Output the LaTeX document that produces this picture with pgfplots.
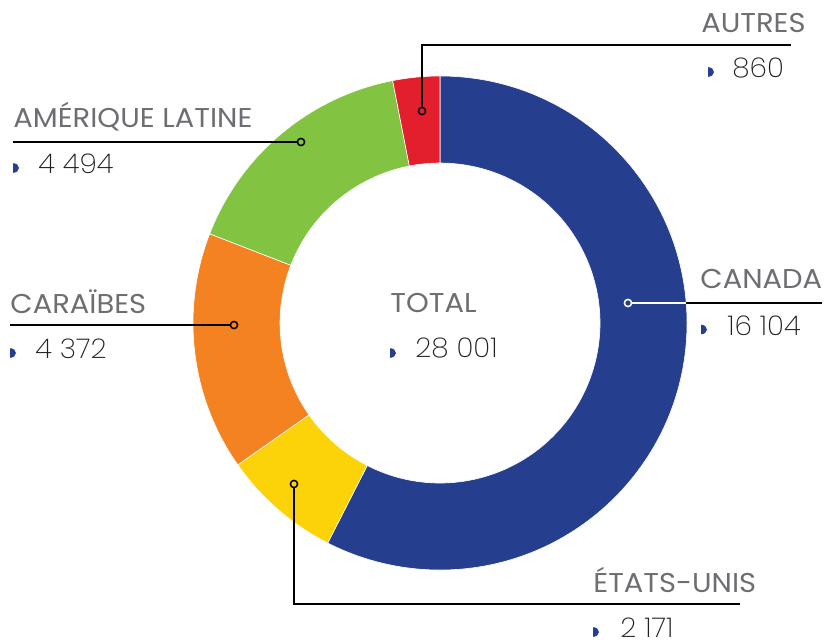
\documentclass[border=0pt]{standalone}
\usepackage{pgfplots}
\pgfplotsset{compat=1.18}
\usepackage{pgfplotstable}
\usepackage{fontspec}
\setmainfont{Poppins}[FakeStretch=1.065]
\newfontfamily\lightfont{Poppins ExtraLight}[FakeStretch=1.03]
\definecolor{cCanada}{RGB}{37,63,142}
\definecolor{cUS}{RGB}{252,210,8}
\definecolor{cCar}{RGB}{245,130,32}
\definecolor{cAmLat}{RGB}{130,195,65}
\definecolor{cAutres}{RGB}{227,30,45}
\definecolor{cGrey}{RGB}{109,110,113}
\definecolor{cNum}{RGB}{35,31,32}
\definecolor{cBullet}{RGB}{37,63,142}
\pgfplotstableread{
name value col
Canada 16104 cCanada
EtatsUnis 2171 cUS
Caraibes 4372 cCar
AmLat 4494 cAmLat
Autres 860 cAutres
}\datatable
\newcommand\lab[3]{\node[anchor=#3, inner sep=0pt, text=cGrey, font=\fontsize{13.6pt}{16pt}\selectfont] at (axis cs:#1) {#2};}
\newcommand\val[3]{%
  \fill[cBullet] (axis cs:#1) ++(0,2.4pt) arc[start angle=90,end angle=-90,x radius=3pt,y radius=2.4pt] -- cycle;
  \node[anchor=base west, inner sep=0pt, text=cNum, font=\lightfont\fontsize{13.6pt}{16pt}\selectfont] at (axis cs:#2) {#3};}
\begin{document}
\begin{tikzpicture}
\begin{axis}[
  x=0.5pt, y=0.5pt,
  xmin=0, xmax=830, ymin=0, ymax=639,
  y dir=reverse,
  hide axis,
  clip=false,
]
\pgfplotsextra{
  \pgfplotstablegetrowsof{\datatable}
  \pgfmathtruncatemacro{\nrows}{\pgfplotsretval-1}
  \gdef\tot{0}
  \foreach \i in {0,...,\nrows}{
    \pgfplotstablegetelem{\i}{value}\of\datatable
    \pgfmathsetmacro{\tmp}{\tot+\pgfplotsretval/1000}\xdef\tot{\tmp}
  }
  \gdef\cum{0}
  \foreach \i in {0,...,\nrows}{
    \pgfplotstablegetelem{\i}{value}\of\datatable
    \pgfmathsetmacro{\sval}{\pgfplotsretval/1000}
    \pgfplotstablegetelem{\i}{col}\of\datatable \let\scol\pgfplotsretval
    \pgfmathsetmacro{\angA}{90-360*\cum/\tot}
    \pgfmathsetmacro{\angB}{90-360*(\cum+\sval)/\tot}
    \fill[fill=\scol, draw=white, line width=0.3pt] (axis cs:440,323) ++(\angA:123.5pt)
      arc[start angle=\angA, end angle=\angB, radius=123.5pt]
      -- ++(\angB+180:43.5pt)
      arc[start angle=\angB, end angle=\angA, radius=80pt] -- cycle;
    \pgfmathsetmacro{\tmp}{\cum+\sval}\xdef\cum{\tmp}
  }
}
% leader lines
\draw[black, line width=0.75pt] (axis cs:791,45) -- (axis cs:422,45) -- (axis cs:422,108);
\draw[black, line width=0.75pt, fill=cAutres] (axis cs:422,111) circle[radius=1.8pt];
\draw[black, line width=0.75pt] (axis cs:13,142) -- (axis cs:298,142);
\draw[black, line width=0.75pt, fill=cAmLat] (axis cs:301,142) circle[radius=1.8pt];
\draw[black, line width=0.75pt] (axis cs:10,325) -- (axis cs:231,325);
\draw[black, line width=0.75pt, fill=cCar] (axis cs:234,325) circle[radius=1.8pt];
\draw[white, line width=0.75pt] (axis cs:631,303) -- (axis cs:686,303);
\draw[black, line width=0.75pt] (axis cs:686,303) -- (axis cs:822,303);
\draw[white, line width=0.75pt, fill=cCanada] (axis cs:628,303) circle[radius=1.8pt];
\draw[black, line width=0.75pt] (axis cs:294,487) -- (axis cs:294,604) -- (axis cs:740,604);
\draw[black, line width=0.75pt, fill=cUS] (axis cs:294,484) circle[radius=1.8pt];
% labels
\lab{806,32}{AUTRES}{base east}
\lab{13,127}{AMÉRIQUE LATINE}{base west}
\lab{10,313}{CARAÏBES}{base west}
\lab{390,312}{TOTAL}{base west}
\lab{700,288}{CANADA}{base west}
\lab{593,592}{ÉTATS-UNIS}{base west}
% values
\val{708,72}{732,77}{860}
\val{13,168}{38,173}{4 494}
\val{10,353}{35,358}{4 372}
\val{390,353}{415,357}{28 001}
\val{701,329.5}{727,335}{16 104}
\val{593,632}{620,637}{2 171}
\end{axis}
\pgfresetboundingbox
\path (current axis.south west) rectangle (current axis.north east);
\end{tikzpicture}
\end{document}
